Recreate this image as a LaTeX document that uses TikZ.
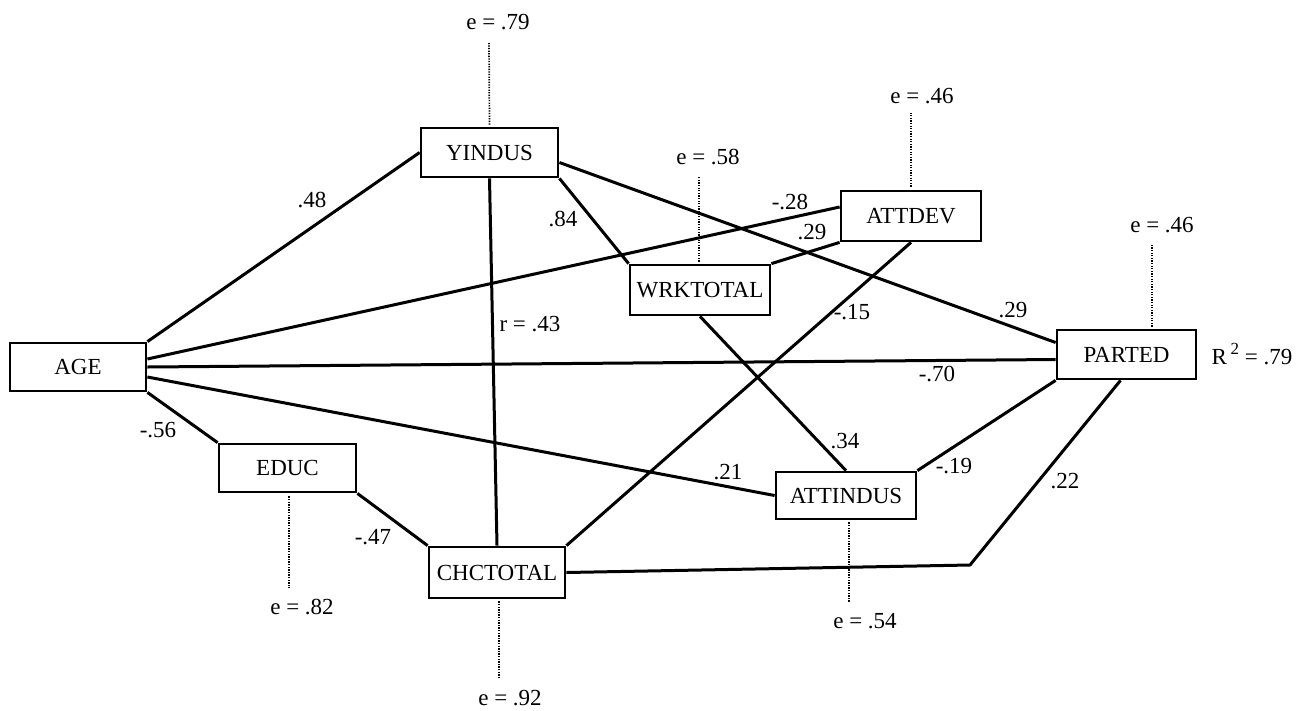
\documentclass[tikz,border=0pt]{standalone}
\usepackage{fontspec}
\setmainfont{Liberation Serif}
\begin{document}
\begin{tikzpicture}[x=1pt,y=-1pt,
  var/.style={draw,line width=2.8pt,rectangle,inner sep=0pt,
    font=\fontsize{23}{26}\selectfont},
  link/.style={line width=3pt,line join=round},
  err/.style={line width=1.7pt,dash pattern=on 1.3pt off 1.3pt},
  coef/.style={font=\fontsize{23}{26}\selectfont,inner sep=0pt},
]
\useasboundingbox[fill=white] (0,0) rectangle (1311,710);

% variables
\node[var,minimum width=136pt,minimum height=48pt] (age)      at (78,367)     {AGE};
\node[var,minimum width=137pt,minimum height=49pt] (yindus)   at (489.5,152.5){YINDUS};
\node[var,minimum width=137pt,minimum height=48pt] (educ)     at (287.5,468)  {EDUC};
\node[var,minimum width=136pt,minimum height=51pt] (chctotal) at (497,572.5)  {CHCTOTAL};
\node[var,minimum width=140pt,minimum height=50pt] (wrktotal) at (700,290)    {WRKTOTAL};
\node[var,minimum width=140pt,minimum height=50pt] (attdev)   at (911,216)    {ATTDEV};
\node[var,minimum width=140pt,minimum height=47pt] (attindus) at (846,495.5)  {ATTINDUS};
\node[var,minimum width=139pt,minimum height=49pt] (parted)   at (1126.5,354.5){PARTED};

% paths
\draw[link] (age.north east) -- (yindus.west);
\draw[link] ([yshift=8pt]age.east) -- ([yshift=9pt]attdev.west);
\draw[link] (age.east) -- ([yshift=-5pt]parted.west);
\draw[link] ([yshift=-10pt]age.east) -- (attindus.west);
\draw[link] (age.south east) -- (educ.north west);
\draw[link] (educ.south east) -- (chctotal.north west);
\draw[link] (yindus.south) -- (chctotal.north);
\draw[link] (yindus.south east) -- (wrktotal.north west);
\draw[link] ([yshift=-10pt]yindus.east) -- ([yshift=12pt]parted.west);
\draw[link] (wrktotal.north east) -- (attdev.south west);
\draw[link] (wrktotal.south) -- (attindus.north);
\draw[link] (attdev.south) -- (chctotal.north east);
\draw[link] (attindus.north east) -- (parted.south west);
\coordinate (bend) at (970,565);
\draw[link] (chctotal.east) -- (bend) -- ([xshift=-6pt]parted.south);

% error terms
\coordinate (e-yindus)   at (489,43);
\coordinate (e-wrktotal) at (699,177);
\coordinate (e-attdev)   at (911,112);
\coordinate (e-parted)   at (1152,244);
\coordinate (e-educ)     at (289,588);
\coordinate (e-chctotal) at (499,679);
\coordinate (e-attindus) at (849,602);
\draw[err] ([yshift=2pt]yindus.north) -- (e-yindus);
\draw[err] ([yshift=2pt,xshift=-1pt]wrktotal.north) -- (e-wrktotal);
\draw[err] ([yshift=3pt]attdev.north) -- (e-attdev);
\draw[err] ([yshift=2pt,xshift=25.5pt]parted.north) -- (e-parted);
\draw[err] ([yshift=-3pt,xshift=1.5pt]educ.south) -- (e-educ);
\draw[err] ([yshift=-2pt,xshift=2pt]chctotal.south) -- (e-chctotal);
\draw[err] ([yshift=-2pt,xshift=3pt]attindus.south) -- (e-attindus);

\node[coef] (le-yindus)   at (498,22)   {e = .79};
\node[coef] (le-wrktotal) at (708,157)  {e = .58};
\node[coef] (le-attdev)   at (922,96)   {e = .46};
\node[coef] (le-parted)   at (1162,225) {e = .46};
\node[coef] (le-educ)     at (302,607)  {e = .82};
\node[coef] (le-chctotal) at (510,698)  {e = .92};
\node[coef] (le-attindus) at (865,621)  {e = .54};
\node[coef] (rsq)         at (1252,354) {R\,\raisebox{0.42em}{\fontsize{17}{17}\selectfont 2} = .79};

% path coefficients
\node[coef] (c1)  at (312,200) {.48};
\node[coef] (c2)  at (158,430) {-.56};
\node[coef] (c3)  at (373,537) {-.47};
\node[coef] (c4)  at (563,219) {.84};
\node[coef] (c5)  at (530,324) {r = .43};
\node[coef] (c6)  at (790,202) {-.28};
\node[coef] (c7)  at (812,232) {.29};
\node[coef] (c8)  at (852,312) {-.15};
\node[coef] (c9)  at (1013,310){.29};
\node[coef] (c10) at (937,374) {-.70};
\node[coef] (c11) at (845,441) {.34};
\node[coef] (c12) at (728,472) {.21};
\node[coef] (c13) at (954,466) {-.19};
\node[coef] (c14) at (1065,481){.22};
\end{tikzpicture}
\end{document}
